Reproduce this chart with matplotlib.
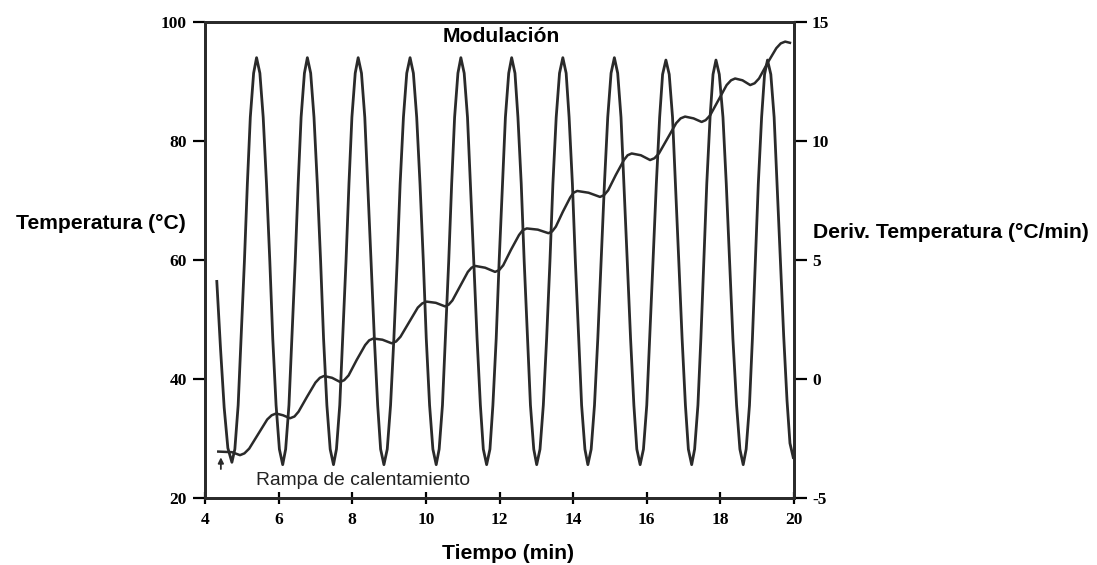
import matplotlib.pyplot as plt

mod_time = [4.32, 4.42, 4.52, 4.62, 4.73,
            4.81, 4.90, 4.98, 5.07, 5.15, 5.23, 5.32, 5.40,
            5.49, 5.58, 5.67, 5.76, 5.84, 5.93, 6.02, 6.11,
            6.19, 6.28, 6.36, 6.45, 6.53, 6.61, 6.70, 6.78,
            6.87, 6.96, 7.05, 7.14, 7.22, 7.31, 7.40, 7.49,
            7.57, 7.66, 7.74, 7.83, 7.91, 7.99, 8.08, 8.16,
            8.25, 8.34, 8.42, 8.51, 8.60, 8.69, 8.77, 8.86,
            8.95, 9.04, 9.13, 9.22, 9.30, 9.39, 9.48, 9.57,
            9.66, 9.75, 9.84, 9.93, 10.01, 10.10, 10.19, 10.28,
            10.36, 10.45, 10.53, 10.62, 10.70, 10.78, 10.87, 10.95,
            11.04, 11.13, 11.21, 11.30, 11.39, 11.48, 11.56, 11.65,
            11.74, 11.82, 11.91, 11.99, 12.08, 12.16, 12.25, 12.33,
            12.42, 12.50, 12.59, 12.67, 12.76, 12.84, 12.93, 13.01,
            13.10, 13.19, 13.28, 13.37, 13.45, 13.54, 13.63, 13.72,
            13.81, 13.89, 13.98, 14.06, 14.15, 14.23, 14.32, 14.40,
            14.49, 14.58, 14.67, 14.76, 14.85, 14.94, 15.03, 15.12,
            15.21, 15.30, 15.38, 15.47, 15.56, 15.65, 15.73, 15.82,
            15.91, 16.00, 16.08, 16.17, 16.26, 16.35, 16.43, 16.52,
            16.61, 16.70, 16.78, 16.87, 16.96, 17.05, 17.13, 17.22,
            17.30, 17.39, 17.47, 17.55, 17.63, 17.72, 17.80, 17.88,
            17.97, 18.07, 18.16, 18.25, 18.34, 18.44, 18.53, 18.62,
            18.70, 18.79, 18.87, 18.95, 19.03, 19.12, 19.20, 19.28,
            19.37, 19.46, 19.54, 19.63, 19.72, 19.81, 19.89, 19.98]
mod_value = [4.1, 1.3, -1.2, -2.9, -3.5,
             -2.95, -1.1, 1.7, 4.95, 8.2, 11.0, 12.85, 13.5,
             12.85, 11.0, 8.2, 4.95, 1.7, -1.1, -2.95, -3.6,
             -2.95, -1.1, 1.7, 4.95, 8.2, 11.0, 12.85, 13.5,
             12.85, 11.0, 8.2, 4.95, 1.7, -1.1, -2.95, -3.6,
             -2.95, -1.1, 1.7, 4.95, 8.2, 11.0, 12.85, 13.5,
             12.85, 11.0, 8.2, 4.95, 1.7, -1.1, -2.95, -3.6,
             -2.95, -1.1, 1.7, 4.95, 8.2, 11.0, 12.85, 13.5,
             12.85, 11.0, 8.2, 4.95, 1.7, -1.1, -2.95, -3.6,
             -2.95, -1.1, 1.7, 4.95, 8.2, 11.0, 12.85, 13.5,
             12.85, 11.0, 8.2, 4.95, 1.7, -1.1, -2.95, -3.6,
             -2.95, -1.1, 1.7, 4.95, 8.2, 11.0, 12.85, 13.5,
             12.85, 11.0, 8.2, 4.95, 1.7, -1.1, -2.95, -3.6,
             -2.95, -1.1, 1.7, 4.95, 8.2, 11.0, 12.85, 13.5,
             12.85, 11.0, 8.2, 4.95, 1.7, -1.1, -2.95, -3.6,
             -2.95, -1.1, 1.7, 4.95, 8.2, 11.0, 12.85, 13.5,
             12.85, 11.0, 8.2, 4.95, 1.7, -1.1, -2.95, -3.6,
             -2.95, -1.1, 1.7, 4.95, 8.2, 11.0, 12.8, 13.4,
             12.8, 11.0, 8.2, 4.95, 1.7, -1.1, -2.95, -3.6,
             -2.95, -1.1, 1.7, 4.95, 8.2, 11.0, 12.8, 13.4,
             12.8, 11.0, 8.2, 4.95, 1.7, -1.1, -2.95, -3.6,
             -2.95, -1.1, 1.7, 4.95, 8.2, 11.0, 12.8, 13.4,
             12.8, 11.0, 8.2, 5.0, 1.8, -0.9, -2.7, -3.3]

# Rampa de calentamiento: temperatura (°C)
temp_time = [4.36, 4.73, 4.95,
             5.07, 5.20, 5.44, 5.69, 5.81, 5.93, 6.12, 6.31,
             6.43, 6.54, 6.77, 7.00, 7.12, 7.23, 7.45, 7.67,
             7.78, 7.90, 8.12, 8.35, 8.46, 8.57, 8.82, 9.07,
             9.19, 9.31, 9.54, 9.78, 9.90, 10.02, 10.27, 10.52,
             10.62, 10.72, 10.93, 11.14, 11.24, 11.34, 11.61, 11.88,
             11.99, 12.10, 12.31, 12.53, 12.63, 12.74, 13.04, 13.33,
             13.43, 13.53, 13.72, 13.92, 14.01, 14.11, 14.42, 14.73,
             14.84, 14.95, 15.16, 15.38, 15.48, 15.59, 15.84, 16.09,
             16.21, 16.33, 16.57, 16.80, 16.92, 17.04, 17.27, 17.49,
             17.60, 17.72, 17.95, 18.17, 18.29, 18.40, 18.60, 18.81,
             18.93, 19.05, 19.28, 19.52, 19.64, 19.76, 19.89]
temp_value = [27.8, 27.7, 27.2,
              27.5, 28.3, 30.7, 33.2, 33.9, 34.2, 33.9, 33.4,
              33.7, 34.5, 37.0, 39.4, 40.2, 40.5, 40.2, 39.5,
              39.8, 40.6, 43.2, 45.7, 46.5, 46.8, 46.6, 46.0,
              46.3, 47.1, 49.5, 52.0, 52.7, 53.0, 52.8, 52.2,
              52.5, 53.2, 55.6, 58.0, 58.7, 59.0, 58.7, 58.0,
              58.3, 59.1, 61.7, 64.2, 65.0, 65.3, 65.1, 64.5,
              64.8, 65.6, 68.1, 70.5, 71.3, 71.6, 71.3, 70.6,
              70.9, 71.7, 74.3, 76.8, 77.6, 77.9, 77.6, 76.8,
              77.1, 77.9, 80.5, 83.0, 83.8, 84.1, 83.8, 83.2,
              83.5, 84.3, 86.9, 89.4, 90.2, 90.5, 90.2, 89.4,
              89.7, 90.5, 93.1, 95.6, 96.4, 96.7, 96.5]

x_ticks = [4, 6, 8, 10, 12, 14, 16, 18, 20]
left_ticks = [20, 40, 60, 80, 100]
right_ticks = [-5, 0, 5, 10, 15]

line_color = "#2a2a2a"
tick_font = {"family": "Liberation Serif", "weight": "bold", "size": 12.5}
label_font = {"family": "Liberation Sans", "weight": "bold", "size": 15.2}

fig = plt.figure(figsize=(10.97, 5.65), dpi=100)
ax = fig.add_axes([0.1869, 0.1186, 0.5369, 0.8425])
ax2 = ax.twinx()

ax.plot(temp_time, temp_value, color=line_color, lw=1.8)
ax2.plot(mod_time, mod_value, color=line_color, lw=2.0)

ax.set_xlim(4, 20)
ax.set_ylim(20, 100)
ax2.set_ylim(-5, 15)

ax.set_xticks(x_ticks)
ax.set_yticks(left_ticks)
ax2.set_yticks(right_ticks)
ax.set_xticklabels([str(v) for v in x_ticks], fontdict=tick_font)
ax.set_yticklabels([str(v) for v in left_ticks], fontdict=tick_font)
ax2.set_yticklabels([str(v) for v in right_ticks], fontdict=tick_font)

ax.tick_params(axis="y", direction="out", length=9, width=1.6, pad=4)
ax.tick_params(axis="x", direction="inout", length=8, width=1.6, pad=6)
ax2.tick_params(axis="y", direction="out", length=9, width=1.6, pad=4)
for a in (ax, ax2):
    for s in a.spines.values():
        s.set_linewidth(2)
        s.set_color(line_color)

ax.annotate("", xy=(4.43, 27.3), xytext=(4.43, 24.4),
            arrowprops=dict(arrowstyle="-|>", color=line_color, lw=1.3,
                            mutation_scale=8))
ax.text(5.39, 23.0, "Rampa de calentamiento", fontsize=13.9,
        family="Liberation Sans", ha="left", va="center", color="#222222")
ax.text(12.05, 97.5, "Modulación", fontdict=label_font, ha="center", va="center")

fig.text(0.0146, 0.605, "Temperatura (°C)", fontdict=label_font, va="center")
fig.text(0.741, 0.588, "Deriv. Temperatura (°C/min)", fontdict=label_font, va="center")
fig.text(0.463, 0.021, "Tiempo (min)", fontdict=label_font, ha="center", va="center")

fig.savefig("out.png", dpi=100)
